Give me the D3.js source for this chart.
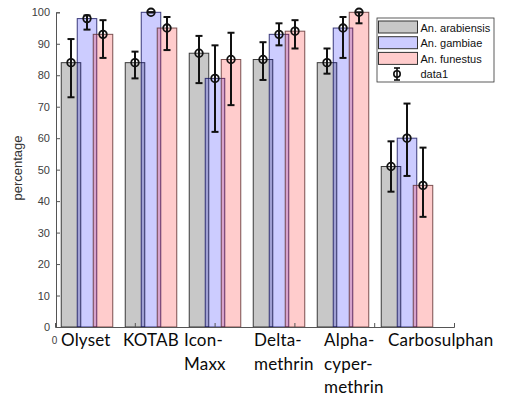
<!DOCTYPE html>
<html>
<head>
<meta charset="utf-8">
<script src="https://cdn.jsdelivr.net/npm/d3@7"></script>
<style>
  html, body { margin: 0; padding: 0; background: #fff; }
</style>
</head>
<body>
<div id="chart"></div>
<script>
// ── Data ──────────────────────────────────────────────────────────────────────
const CATEGORIES  = ["Olyset", "KOTAB", "Icon-Maxx", "Deltamethrin", "Alphacypermethrin", "Carbosulphan"];
const CAT_LINES   = [["Olyset"], ["KOTAB"], ["Icon-", "Maxx"], ["Delta-", "methrin"], ["Alpha-", "cyper-", "methrin"], ["Carbosulphan"]];
const SERIES      = ["An. arabiensis", "An. gambiae", "An. funestus"];

const ARABIENSIS      = [84, 84, 87, 85, 84, 51];
const ARABIENSIS_LOW  = [73, 79, 77.5, 78.5, 80.5, 43];
const ARABIENSIS_HIGH = [91.5, 87.5, 92.5, 90.5, 88.5, 59];
const GAMBIAE         = [98, 100, 79, 93, 95, 60];
const GAMBIAE_LOW     = [94.5, 100, 62, 89.5, 85.5, 48];
const GAMBIAE_HIGH    = [99, 100, 89.5, 96.5, 98.5, 71];
const FUNESTUS        = [93, 95, 85, 94, 100, 45];
const FUNESTUS_LOW    = [85.5, 88, 70.5, 88.5, 96.5, 35];
const FUNESTUS_HIGH   = [97.5, 98.5, 93.5, 97.5, 100, 57];

const Y_TICKS = [0, 10, 20, 30, 40, 50, 60, 70, 80, 90, 100];
const X_TICKS = [0, 1, 2, 3, 4, 5];

// ── Style ─────────────────────────────────────────────────────────────────────
const FILL   = { "An. arabiensis": "#000000", "An. gambiae": "#0000ff", "An. funestus": "#ff0000" };
const FALPHA = { "An. arabiensis": 0.215, "An. gambiae": 0.2, "An. funestus": 0.2 };
const EDGE   = { "An. arabiensis": "#111111", "An. gambiae": "#10105a", "An. funestus": "#5a2a2a" };
const LABEL_NUDGE = [0, -2, -5, 1, 7, 7];   // hand-placed category text, px from group left

// ── Dimensions ────────────────────────────────────────────────────────────────
const W = 507, H = 402;
const plot = { left: 55, right: 454, top: 12.3, bottom: 327 };

const svg = d3.select("#chart").append("svg")
  .attr("width", W).attr("height", H)
  .style("font-family", "Liberation Sans, Arial, sans-serif");

// ── Scales ────────────────────────────────────────────────────────────────────
const xGroup = d3.scaleBand().domain(CATEGORIES).range([plot.left, plot.left + 64 * CATEGORIES.length]);
const xInner = d3.scalePoint().domain(SERIES).range([-16, 16]);
const barW   = xGroup.bandwidth() * 0.305;
const xTick  = d3.scaleLinear().domain([0, 5]).range([plot.left, plot.right]);
const y      = d3.scaleLinear().domain([0, 100]).range([plot.bottom, plot.top]);

const rows = SERIES.map((s, k) => ({
  name: s,
  vals: [ARABIENSIS, GAMBIAE, FUNESTUS][k],
  lo:   [ARABIENSIS_LOW, GAMBIAE_LOW, FUNESTUS_LOW][k],
  hi:   [ARABIENSIS_HIGH, GAMBIAE_HIGH, FUNESTUS_HIGH][k],
}));

// ── Bars ──────────────────────────────────────────────────────────────────────
rows.forEach(r => {
  svg.append("g").selectAll("rect")
    .data(CATEGORIES.map((c, i) => ({ c, v: r.vals[i] })))
    .join("rect")
    .attr("x", d => xGroup(d.c) + xGroup.bandwidth() / 2 + xInner(r.name) - barW / 2)
    .attr("width", barW)
    .attr("y", d => y(d.v))
    .attr("height", d => y(0) - y(d.v))
    .attr("fill", FILL[r.name]).attr("fill-opacity", FALPHA[r.name])
    .attr("stroke", EDGE[r.name]).attr("stroke-width", 1).attr("stroke-opacity", 0.8);
});

// ── Error bars ────────────────────────────────────────────────────────────────
const errG = svg.append("g").attr("stroke", "#111").attr("fill", "none");
rows.forEach(r => {
  CATEGORIES.forEach((c, i) => {
    const cx = xGroup(c) + xGroup.bandwidth() / 2 + xInner(r.name);
    errG.append("line").attr("x1", cx).attr("x2", cx)
      .attr("y1", y(r.lo[i])).attr("y2", y(r.hi[i])).attr("stroke-width", 2);
    [r.lo[i], r.hi[i]].forEach(v => {
      errG.append("line").attr("x1", cx - 3.5).attr("x2", cx + 3.5)
        .attr("y1", y(v)).attr("y2", y(v)).attr("stroke-width", 2);
    });
    errG.append("circle").attr("cx", cx).attr("cy", y(r.vals[i]))
      .attr("r", 3.8).attr("stroke-width", 1.8);
  });
});

// ── Axes ──────────────────────────────────────────────────────────────────────
const yAxis = svg.append("g")
  .attr("transform", `translate(${plot.left + 1},0)`)
  .call(d3.axisLeft(y).tickValues(Y_TICKS).tickSize(-4).tickPadding(6));
const xAxis = svg.append("g")
  .attr("transform", `translate(0,${plot.bottom})`)
  .call(d3.axisBottom(xTick).tickValues(X_TICKS).tickSize(-4).tickPadding(10)
    .tickFormat(d => d === 0 ? "0" : ""));

[yAxis, xAxis].forEach(g => {
  g.select(".domain").attr("stroke", "#555");
  g.selectAll(".tick line").attr("stroke", "#555");
  g.selectAll("text").attr("fill", "#404040").style("font-family", "Liberation Sans, Arial, sans-serif");
});
yAxis.selectAll("text").style("font-size", "11px");
xAxis.selectAll("text").style("font-size", "10px").attr("dx", "-1");

svg.append("text")
  .attr("transform", `translate(22,168) rotate(-90)`)
  .attr("text-anchor", "middle")
  .attr("fill", "#333")
  .style("font-size", "13px")
  .text("percentage");

// ── Category labels ───────────────────────────────────────────────────────────
CATEGORIES.forEach((c, i) => {
  const x0 = xGroup(c) + 6 + LABEL_NUDGE[i];
  const t = svg.append("text")
    .attr("x", x0)
    .attr("y", 346)
    .attr("fill", "#0a0a0a")
    .style("font-family", "Lato, 'Open Sans', sans-serif")
    .style("font-size", "17px")
    .style("letter-spacing", "0.2px");
  CAT_LINES[i].forEach((line, j) => {
    t.append("tspan").attr("x", x0).attr("dy", j ? 23.5 : 0).text(line);
  });
});

// ── Legend ────────────────────────────────────────────────────────────────────
const legend = svg.append("g").attr("transform", "translate(377,18)");
legend.append("rect").attr("width", 117).attr("height", 64)
  .attr("fill", "#fff").attr("stroke", "#333").attr("stroke-width", 0.8);
rows.forEach((r, i) => {
  const row = legend.append("g").attr("transform", `translate(1.5,${3 + i * 15.7})`);
  row.append("rect").attr("width", 39).attr("height", 12)
    .attr("fill", FILL[r.name]).attr("fill-opacity", FALPHA[r.name])
    .attr("stroke", "#333").attr("stroke-width", 1);
  row.append("text").attr("x", 42).attr("y", 10.5)
    .attr("fill", "#111").style("font-size", "11px").text(r.name);
});
const icon = legend.append("g").attr("transform", "translate(20,56)")
  .attr("stroke", "#111").attr("fill", "none").attr("stroke-width", 1.6);
icon.append("line").attr("x1", 0).attr("x2", 0).attr("y1", -6).attr("y2", 6);
icon.append("line").attr("x1", -3).attr("x2", 3).attr("y1", -6).attr("y2", -6);
icon.append("line").attr("x1", -3).attr("x2", 3).attr("y1", 6).attr("y2", 6);
icon.append("circle").attr("r", 3.2);
legend.append("text").attr("x", 43.5).attr("y", 60)
  .attr("fill", "#111").style("font-size", "11px").text("data1");
</script>
</body>
</html>
